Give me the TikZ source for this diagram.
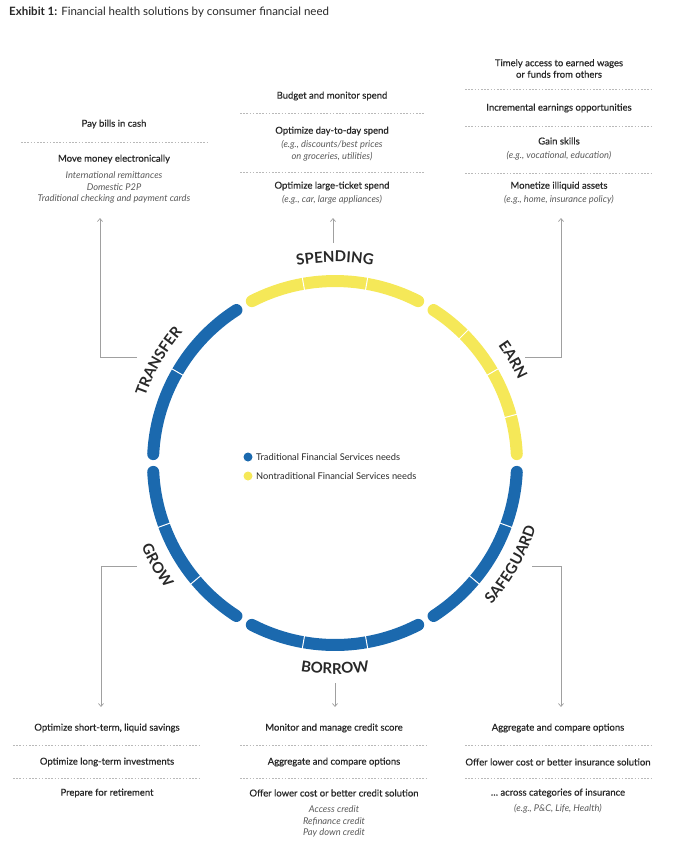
\documentclass[tikz,border=0pt]{standalone}
\usepackage{fontspec}
\setmainfont{Lato}
\newfontfamily\medfont{Lato}[FakeBold=0.6]
\usetikzlibrary{arrows.meta,calc,decorations.text}
\definecolor{tblue}{RGB}{27,105,174}
\definecolor{tyellow}{RGB}{245,232,88}
\definecolor{txt}{RGB}{40,40,40}
\definecolor{subtxt}{RGB}{90,90,90}
\definecolor{lngray}{RGB}{160,160,160}
\definecolor{dshgray}{RGB}{185,185,185}
\newcommand{\catfont}{\bfseries\fontsize{15}{15}\selectfont\color{txt}}
\begin{document}
\begin{tikzpicture}[x=1pt,y=1pt,
 head/.style={font=\medfont\fontsize{9.5}{11.5}\selectfont, text=txt, inner sep=0pt, align=center},
 ex/.style={font=\fontsize{9.3}{11.8}\selectfont\itshape, text=subtxt, inner sep=0pt, align=center},
 sepline/.style={dshgray, line width=0.6pt, dash pattern=on 1.6pt off 1.6pt},
 conn/.style={lngray, line width=0.7pt},
 arr/.style={conn, -{Straight Barb[length=3pt,width=5pt]}},
 ring/.style={line width=12pt, line cap=round},
 tick/.style={white, line width=1pt},
 leg/.style={font=\fontsize{9.3}{10}\selectfont, text=txt, inner sep=0pt, anchor=west},
 cattext/.style={decorate, decoration={text along path, text align=center, text={|\catfont|#1}}}
]
\useasboundingbox (0,0) rectangle (680,-844);

% title
\node[anchor=west, font=\fontsize{11.5}{13}\selectfont, text=txt, inner sep=0pt] (title) at (9,-12)
  {\textbf{Exhibit 1:} Financial health solutions by consumer financial need};

% ring
\coordinate (ctr) at (335,-463);
\foreach \a/\b/\c in {60/120/tyellow, 0/60/tyellow, 120/180/tblue, 180/240/tblue, 240/300/tblue, 300/360/tblue}{
  \pgfmathsetmacro{\sa}{\a+2.8}
  \pgfmathsetmacro{\eb}{\b-2.8}
  \draw[ring, \c] (ctr) ++(\sa:182) arc[start angle=\sa, end angle=\eb, radius=182];
}
\foreach \t in {80,100,15,30,45,150,200,220,260,280,320,340}{
  \draw[tick] (ctr) ++(\t:174) -- ++(\t:16);
}

% category labels (curved)
\path[cattext=SPENDING] ($(ctr)+(120:201)$) arc[start angle=120, end angle=60, radius=201];
\path[cattext=EARN] ($(ctr)+(60:201)$) arc[start angle=60, end angle=0, radius=201];
\path[cattext=TRANSFER] ($(ctr)+(180:201)$) arc[start angle=180, end angle=120, radius=201];
\path[cattext=GROW] ($(ctr)+(180:211)$) arc[start angle=180, end angle=240, radius=211];
\path[cattext=SAFEGUARD] ($(ctr)+(-60:211)$) arc[start angle=-60, end angle=0, radius=211];
\path[cattext=BORROW] ($(ctr)+(240:211)$) arc[start angle=240, end angle=300, radius=211];

% legend
\fill[tblue] (248,-457) circle (4.5);
\fill[tyellow] (248,-476) circle (4.5);
\node[leg] (legA) at (256,-457) {Traditional Financial Services needs};
\node[leg] (legB) at (256,-476) {Nontraditional Financial Services needs};

% transfer block
\node[head] (t1) at (114,-124) {Pay bills in cash};
\draw[sepline] (21,-142) -- (208,-142);
\node[head] (t2) at (114,-159) {Move money electronically};
\node[ex] (t3) at (114,-187.5) {International remittances\\Domestic P2P\\Traditional checking and payment cards};

% spending block
\node[head] (s1) at (332,-96) {Budget and monitor spend};
\draw[sepline] (240,-113) -- (425,-113);
\node[head] (s2) at (332,-131) {Optimize day-to-day spend};
\node[ex] (s3) at (332,-151) {(e.g., discounts/best prices\\on groceries, utilities)};
\draw[sepline] (240,-172) -- (425,-172);
\node[head] (s4) at (332,-186) {Optimize large-ticket spend};
\node[ex] (s5) at (332,-199.5) {(e.g., car, large appliances)};

% earn block
\node[head] (e1) at (559,-68.5) {Timely access to earned wages\\or funds from others};
\draw[sepline] (465,-89) -- (653,-89);
\node[head] (e2) at (559,-108) {Incremental earnings opportunities};
\draw[sepline] (465,-126) -- (653,-126);
\node[head] (e3) at (559,-141) {Gain skills};
\node[ex] (e4) at (559,-156) {(e.g., vocational, education)};
\draw[sepline] (465,-173) -- (653,-173);
\node[head] (e5) at (559,-186) {Monetize illiquid assets};
\node[ex] (e6) at (559,-200) {(e.g., home, insurance policy)};

% grow block
\node[head] (g1) at (107,-728) {Optimize short-term, liquid savings};
\draw[sepline] (13,-745) -- (200,-745);
\node[head] (g2) at (107,-762) {Optimize long-term investments};
\draw[sepline] (13,-778) -- (200,-778);
\node[head] (g3) at (107,-793) {Prepare for retirement};

% borrow block
\node[head] (b1) at (334,-728) {Monitor and manage credit score};
\draw[sepline] (240,-745) -- (427,-745);
\node[head] (b2) at (334,-762) {Aggregate and compare options};
\draw[sepline] (240,-778) -- (427,-778);
\node[head] (b3) at (334,-793) {Offer lower cost or better credit solution};
\node[ex] (b4) at (334,-821.5) {Access credit\\Refinance credit\\Pay down credit};

% safeguard block
\node[head] (f1) at (558,-728) {Aggregate and compare options};
\draw[sepline] (465,-745) -- (652,-745);
\node[head] (f2) at (558,-762) {Offer lower cost or better insurance solution};
\draw[sepline] (465,-778) -- (652,-778);
\node[head] (f3) at (558,-793) {\dots\ across categories of insurance};
\node[ex] (f4) at (558,-809) {(e.g., P\&C, Life, Health)};

% connectors
\coordinate (tA) at (137,-357); \coordinate (tB) at (100,-357); \coordinate (tC) at (100,-218);
\draw[arr] (tA) -- (tB) -- (tC);
\coordinate (sA) at (333,-243); \coordinate (sC) at (333,-218);
\draw[arr] (sA) -- (sC);
\coordinate (eA) at (525,-357); \coordinate (eB) at (561,-357); \coordinate (eC) at (561,-218);
\draw[arr] (eA) -- (eB) -- (eC);
\coordinate (gA) at (137,-566); \coordinate (gB) at (101,-566); \coordinate (gC) at (101,-707);
\draw[arr] (gA) -- (gB) -- (gC);
\coordinate (bA) at (335,-683); \coordinate (bC) at (335,-707);
\draw[arr] (bA) -- (bC);
\coordinate (fA) at (532,-566); \coordinate (fB) at (561,-566); \coordinate (fC) at (561,-707);
\draw[arr] (fA) -- (fB) -- (fC);
\end{tikzpicture}
\end{document}
